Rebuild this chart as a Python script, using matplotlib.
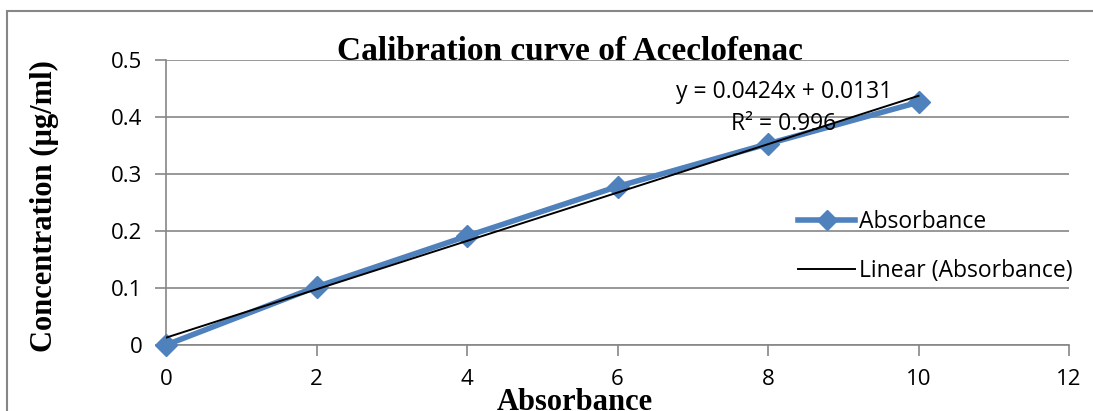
import numpy as np
import matplotlib
matplotlib.use("Agg")
import matplotlib.pyplot as plt
from matplotlib.lines import Line2D
from matplotlib.patches import Rectangle

x_vals = [0, 2, 4, 6, 8, 10]
absorbance = [0.0, 0.102, 0.191, 0.278, 0.353, 0.426]
x_ticks = [0, 2, 4, 6, 8, 10, 12]
y_ticks = [0, 0.1, 0.2, 0.3, 0.4, 0.5]
y_tick_labels = ["0", "0.1", "0.2", "0.3", "0.4", "0.5"]
title = "Calibration curve of Aceclofenac"
x_label = "Absorbance"
y_label = "Concentration (µg/ml)"
eq_text = "y = 0.0424x + 0.0131"
r2_text = "R² = 0.996"
legend_labels = ["Absorbance", "Linear (Absorbance)"]

W, H = 1093, 411
fig = plt.figure(figsize=(W / 100, H / 100), dpi=100)
ax = fig.add_axes([166 / W, 1 - 345 / H, (1069 - 166) / W, (345 - 60) / H])

grid_c = "#868686"
blue = "#4F81BD"
tick_font = "Open Sans"
serif = "Liberation Serif"
fs = 16

# frame around chart
fig.patches.append(Rectangle((7 / W, -0.5), 2, 1 - 11 / H + 0.5, transform=fig.transFigure,
                             fill=False, edgecolor=grid_c, linewidth=1.5))

ax.set_xlim(0, 12)
ax.set_ylim(0, 0.5)
ax.set_yticks(y_ticks)
ax.set_yticklabels(y_tick_labels)
ax.set_xticks(x_ticks)
ax.yaxis.grid(True, color=grid_c, linewidth=1.2)
ax.set_axisbelow(True)
for s in ["top", "right"]:
    ax.spines[s].set_visible(False)
for s in ["left", "bottom"]:
    ax.spines[s].set_color(grid_c)
    ax.spines[s].set_linewidth(1.2)
ax.tick_params(axis="both", colors=grid_c, length=8, width=1.2, labelcolor="black")
ax.tick_params(axis="y", pad=9)
ax.tick_params(axis="x", pad=9)
for lab in ax.get_xticklabels() + ax.get_yticklabels():
    lab.set_fontfamily(tick_font)
    lab.set_fontsize(fs)

# data series
xa = np.array(x_vals, dtype=float)
ya = np.array(absorbance, dtype=float)
ax.plot(xa, ya, color=blue, linewidth=4, marker="D", markersize=11,
        markerfacecolor=blue, markeredgecolor=blue, clip_on=False, zorder=3)

# linear trendline
m, b = np.polyfit(xa, ya, 1)
ax.plot([0, 10], [b, m * 10 + b], color="black", linewidth=1.4, zorder=4)

ax.text(784 / W, 1 - 92 / H, eq_text, transform=fig.transFigure, fontsize=16.5,
        family=tick_font, ha="center", va="center", zorder=5)
ax.text(784 / W, 1 - 124 / H, r2_text, transform=fig.transFigure, fontsize=16.5,
        family=tick_font, ha="center", va="center", zorder=5)

# title and axis labels
fig.text(570 / W, 1 - 51 / H, title, fontsize=24, family=serif, weight="bold",
         ha="center", va="center")
fig.text(575 / W, 1 - 402 / H, x_label, fontsize=22, family=serif, weight="bold",
         ha="center", va="center")
fig.text(44 / W, 1 - 206 / H, y_label, fontsize=22, family=serif, weight="bold",
         ha="center", va="center", rotation=90)

# legend
handles = [Line2D([], [], color=blue, linewidth=4, marker="D", markersize=10),
           Line2D([], [], color="black", linewidth=1.4)]
leg = ax.legend(handles, legend_labels, loc="upper left",
                bbox_to_anchor=(798 / W, 1 - 210 / H), bbox_transform=fig.transFigure,
                frameon=False, prop={"family": tick_font, "size": 16.5},
                handlelength=2.5, handletextpad=0.15, labelspacing=1.1, borderaxespad=0,
                borderpad=0)

fig.savefig("out.png", dpi=100)
